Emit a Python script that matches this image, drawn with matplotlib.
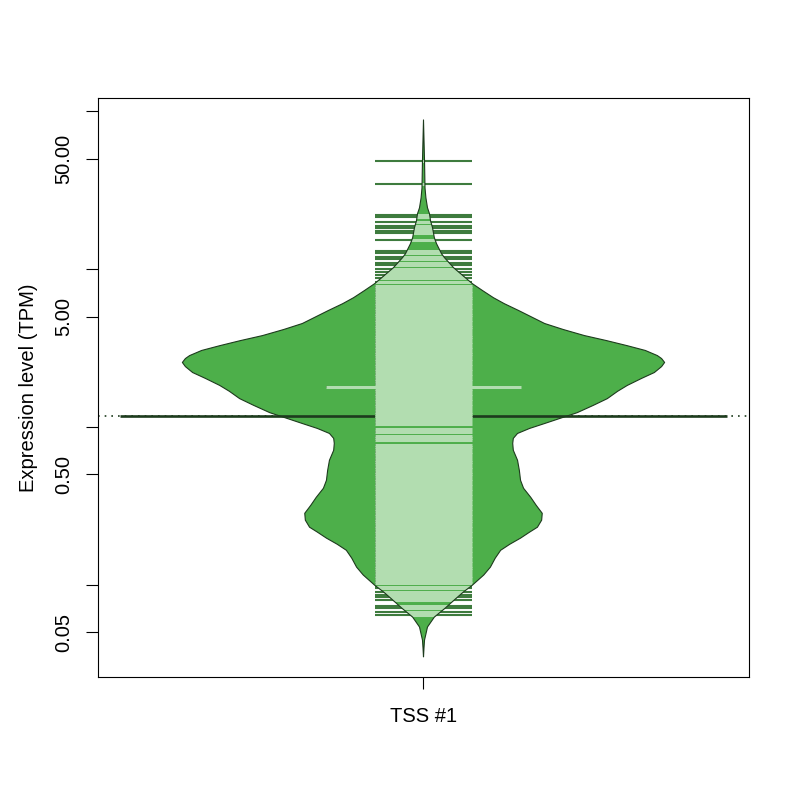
from collections import Counter
import numpy as np
import matplotlib
matplotlib.use('Agg')
from matplotlib import pyplot as plt
from matplotlib.patches import Polygon

plt.rcParams['font.family'] = ['Liberation Sans', 'DejaVu Sans']

# bean outline: expression level (TPM) and half width of the bean (x units)
bean_tpm = [88.3, 48.5, 32.7, 28.3, 24.5, 22.4, 20.3, 18.3, 15.8, 14.5,
            12.5, 11.8, 10.2, 8.09, 7.31, 6.59, 6.04, 5.46, 4.52, 4.14,
            3.79, 3.52, 3.27, 3.05, 2.83, 2.71, 2.56, 2.41, 2.21, 2.03,
            1.83, 1.68, 1.51, 1.37, 1.23, 1.13, 1.05, 0.977, 0.908, 0.845,
            0.785, 0.710, 0.614, 0.530, 0.458, 0.408, 0.357, 0.318, 0.283, 0.256,
            0.231, 0.215, 0.197, 0.180, 0.165, 0.147, 0.129, 0.115, 0.0991, 0.0896,
            0.0798, 0.0709, 0.0622, 0.0538, 0.0486, 0.0445, 0.0396, 0.0348]
bean_halfwidth = [0.0, 0.0017, 0.0025, 0.004, 0.0066, 0.010, 0.0116, 0.015, 0.018, 0.0216,
                  0.030, 0.035, 0.050, 0.081, 0.098, 0.116, 0.134, 0.158, 0.201, 0.232,
                  0.267, 0.304, 0.338, 0.368, 0.388, 0.395, 0.400, 0.395, 0.383, 0.362,
                  0.338, 0.322, 0.305, 0.282, 0.255, 0.226, 0.201, 0.176, 0.156, 0.149,
                  0.148, 0.149, 0.156, 0.159, 0.161, 0.166, 0.178, 0.187, 0.197, 0.196,
                  0.189, 0.176, 0.161, 0.143, 0.128, 0.119, 0.111, 0.100, 0.081, 0.066,
                  0.051, 0.036, 0.018, 0.0066, 0.004, 0.0017, 0.0008, 0.0]

# individual observations (bean lines), TPM
obs_tpm = [48.5, 34.9, 22.0, 21.5, 19.8, 18.8, 18.1, 17.5, 16.9, 15.4,
           13.1, 12.7, 11.9, 11.6, 11.0, 10.6, 10.0, 9.64, 9.18, 8.73,
           8.24, 7.85,
           7.6, 7.3, 7.05, 6.8, 6.6, 6.35, 6.1, 5.9, 5.7, 5.5, 5.3, 5.1, 4.95, 4.75,
           4.6, 4.45, 4.3, 4.15, 4.0, 3.85, 3.72, 3.6, 3.47, 3.35, 3.22, 3.1, 3.0,
           2.9, 2.8, 2.7, 2.6, 2.5, 2.42, 2.33, 2.25, 2.17, 2.1, 2.02, 1.95, 1.88,
           1.80, 1.80, 1.74, 1.68, 1.62, 1.56, 1.5, 1.45, 1.4, 1.35, 1.3, 1.25, 1.21,
           1.17, 1.13, 1.09, 1.05, 0.97, 0.93, 0.88, 0.85, 0.82, 0.77, 0.745, 0.72,
           0.695, 0.67, 0.645, 0.62, 0.6, 0.58, 0.56, 0.54, 0.52, 0.5, 0.485, 0.468,
           0.452, 0.436, 0.42, 0.405, 0.39, 0.376, 0.363, 0.35, 0.338, 0.326, 0.314,
           0.303, 0.292, 0.282, 0.272, 0.262, 0.253, 0.244, 0.235, 0.227, 0.219,
           0.211, 0.204, 0.197, 0.19, 0.183, 0.176, 0.17, 0.164, 0.158, 0.152,
           0.147, 0.142, 0.137, 0.132, 0.127, 0.123, 0.118, 0.114, 0.11, 0.106,
           0.102, 0.0968, 0.0948, 0.0899, 0.0857, 0.083, 0.0798, 0.0733, 0.0706,
           0.0671, 0.0641]

bean_mean = 1.18
group_labels = ['TSS #1']
ytick_vals = [0.05, 0.1, 0.5, 1, 5, 10, 50, 100]
ytick_text = ['0.05', '', '0.50', '', '5.00', '', '50.00', '']

fill_col = '#4daf4a'
dark_col = '#1d3b1d'
line_in = '#b2ddb0'
line_out = '#3e7b3e'

fig = plt.figure(figsize=(8, 8), dpi=100)
ax = fig.add_axes([98/800, 1-677/800, 651/800, 579/800])
ax.set_yscale('log')
ax.set_xlim(0.46, 1.54)
ax.set_ylim(0.02594, 121.6)

hw = np.array(bean_halfwidth)
yy = np.array(bean_tpm)
xs = np.concatenate([1 - hw, (1 + hw)[::-1]])
ys = np.concatenate([yy, yy[::-1]])
bean = Polygon(np.column_stack([xs, ys]), closed=True, facecolor=fill_col,
               edgecolor='none', zorder=1)
ax.add_patch(bean)

# overall line (dotted) and bean average line
ax.axhline(bean_mean, color=dark_col, ls=(0, (1, 3)), lw=1.2, zorder=0.5)
ax.plot([1 - 0.503, 1 + 0.503], [bean_mean, bean_mean], color=dark_col,
        lw=1.9, solid_capstyle='butt', zorder=2)

ll = 0.081
counts = Counter(obs_tpm)
for v, n in counts.items():
    x0, x1 = 1 - ll * n, 1 + ll * n
    ax.plot([x0, x1], [v, v], color=line_out, lw=1.5, solid_capstyle='butt', zorder=3)
    ln, = ax.plot([x0, x1], [v, v], color=line_in, lw=2.2, solid_capstyle='butt', zorder=4)
    ln.set_clip_path(bean)

outline = Polygon(np.column_stack([xs, ys]), closed=True, facecolor='none',
                  edgecolor=dark_col, lw=0.8, joinstyle='round', zorder=5)
ax.add_patch(outline)

ax.set_yticks(ytick_vals)
ax.set_yticklabels(ytick_text, rotation=90, va='center', fontsize=14.5)
ax.yaxis.set_minor_locator(matplotlib.ticker.NullLocator())
ax.set_xticks([1])
ax.set_xticklabels(group_labels, fontsize=14.5)
ax.tick_params(axis='y', length=8.6, width=0.8, pad=9)
ax.tick_params(axis='x', length=8.6, width=0.8, pad=13)
for s in ax.spines.values():
    s.set_linewidth(0.8)

fig.text(29/800, 1-387.5/800, 'Expression level (TPM)', rotation=90,
         ha='center', va='center', fontsize=14.5)

fig.savefig('out.png', dpi=100)
